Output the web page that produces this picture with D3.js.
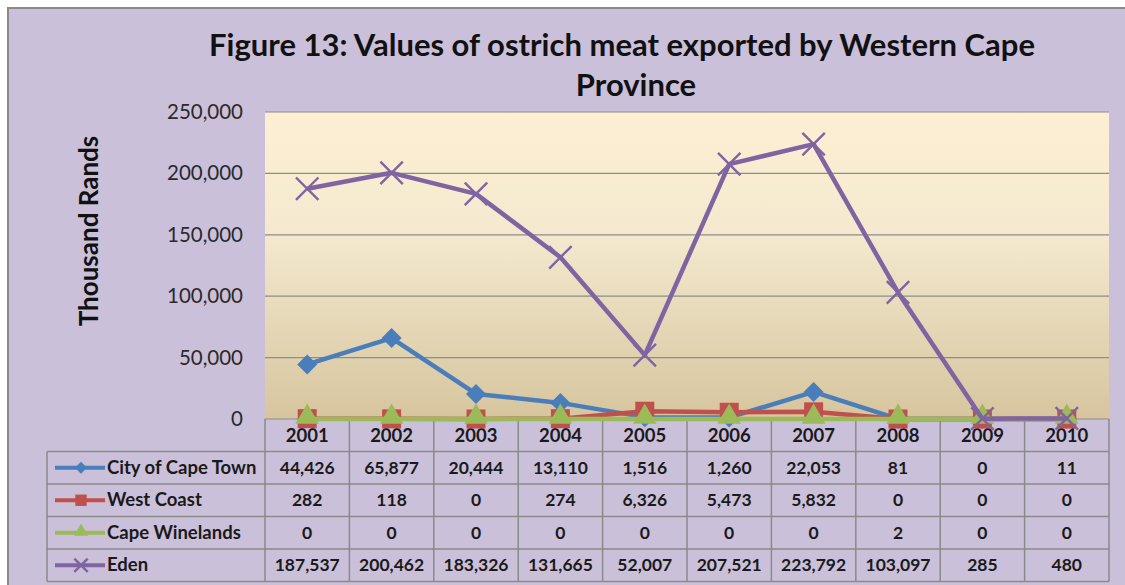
<!DOCTYPE html>
<html>
<head>
<meta charset="utf-8">
<script src="https://cdn.jsdelivr.net/npm/d3@7"></script>
<style>
  body { margin: 0; background: #fff; }
  svg { display: block; }
</style>
</head>
<body>
<div id="chart"></div>
<script>
// Data
var years = ['2001', '2002', '2003', '2004', '2005', '2006', '2007', '2008', '2009', '2010']
var seriesNames = ['City of Cape Town', 'West Coast', 'Cape Winelands', 'Eden']
var cityOfCapeTown = [44426, 65877, 20444, 13110, 1516, 1260, 22053, 81, 0, 11]
var westCoast = [282, 118, 0, 274, 6326, 5473, 5832, 0, 0, 0]
var capeWinelands = [0, 0, 0, 0, 0, 0, 0, 2, 0, 0]
var eden = [187537, 200462, 183326, 131665, 52007, 207521, 223792, 103097, 285, 480]
var yTicks = [0, 50000, 100000, 150000, 200000, 250000]

var seriesColors = ['#4a7ebb', '#c0504d', '#9bbb59', '#8064a2']
var seriesMarkers = ['diamond', 'square', 'triangle', 'cross']
var series = [cityOfCapeTown, westCoast, capeWinelands, eden].map(function(v, i){
  return {name: seriesNames[i], values: v, color: seriesColors[i], marker: seriesMarkers[i]}
})

var W = 1125, H = 585
var plot = {left: 265, right: 1109, top: 112, bottom: 419}
var rowH = 32.5
var tableLeft = 47
var font = 'Lato, "Open Sans", sans-serif'

var svg = d3.select('#chart').append('svg')
    .attr('width', W)
    .attr('height', H)

// Chart background
svg.append('rect')
    .attr('x', 8).attr('y', 8)
    .attr('width', W).attr('height', H)
    .attr('fill', '#cbc0da')
    .attr('stroke', '#8a8a8a')
    .attr('stroke-width', 2)

// Plot gradient
var defs = svg.append('defs')
var grad = defs.append('linearGradient')
    .attr('id', 'plotGrad')
    .attr('x1', 0).attr('y1', 0).attr('x2', 0).attr('y2', 1)
grad.append('stop').attr('offset', '0%').attr('stop-color', '#fdefd3')
grad.append('stop').attr('offset', '40%').attr('stop-color', '#f4e9cf')
grad.append('stop').attr('offset', '100%').attr('stop-color', '#d6c59e')

var x = d3.scaleBand()
    .domain(years)
    .range([plot.left, plot.right])
var y = d3.scaleLinear()
    .domain([0, 250000])
    .range([plot.bottom, plot.top])

svg.append('rect')
    .attr('x', plot.left).attr('y', plot.top)
    .attr('width', plot.right - plot.left)
    .attr('height', plot.bottom - plot.top)
    .attr('fill', 'url(#plotGrad)')

// Gridlines
svg.selectAll('line.grid')
    .data(yTicks)
  .enter().append('line')
    .attr('class', 'grid')
    .attr('x1', plot.left).attr('x2', plot.right)
    .attr('y1', function(d){ return y(d) })
    .attr('y2', function(d){ return y(d) })
    .style('stroke', '#8c8c8c')
    .style('stroke-width', 1.2)

// Y axis
var yAxis = svg.append('g')
    .attr('transform', 'translate(' + (plot.left - 19) + ',0)')
    .call(d3.axisLeft(y).tickValues(yTicks).tickSize(0).tickFormat(d3.format(',')))
yAxis.select('.domain').remove()
yAxis.selectAll('text')
    .attr('font-family', font)
    .attr('font-size', '20.5px')
    .attr('fill', '#2a2a2a')
    .attr('dx', 0)

svg.append('text')
    .attr('transform', 'translate(98,231) rotate(-90)')
    .attr('text-anchor', 'middle')
    .attr('font-family', font)
    .attr('font-weight', 'bold')
    .attr('font-size', '26px')
    .attr('fill', '#111')
    .text('Thousand Rands')

// Title
var title = svg.append('text')
    .attr('text-anchor', 'middle')
    .attr('font-family', font)
    .attr('font-weight', 'bold')
    .attr('font-size', '31px')
    .attr('fill', '#111')
title.append('tspan').attr('x', 622).attr('y', 56)
    .text('Figure 13: Values of ostrich meat exported by Western Cape')
title.append('tspan').attr('x', 636).attr('y', 96)
    .text('Province')

// Data table
var tableTop = plot.bottom
var tableBottom = tableTop + rowH * 5
var table = svg.append('g')
    .style('stroke', '#8a8a8a')
    .style('stroke-width', 1.5)

// vertical lines between year columns
table.selectAll('line.col')
    .data(years.concat(['end']))
  .enter().append('line')
    .attr('x1', function(d, i){ return plot.left + i * x.bandwidth() })
    .attr('x2', function(d, i){ return plot.left + i * x.bandwidth() })
    .attr('y1', tableTop)
    .attr('y2', tableBottom)
table.append('line')
    .attr('x1', tableLeft).attr('x2', tableLeft)
    .attr('y1', tableTop + rowH).attr('y2', tableBottom)
// horizontal lines
table.selectAll('line.row')
    .data(d3.range(1, 6))
  .enter().append('line')
    .attr('x1', tableLeft).attr('x2', plot.right)
    .attr('y1', function(d){ return tableTop + d * rowH })
    .attr('y2', function(d){ return tableTop + d * rowH })

// year labels
svg.selectAll('text.year')
    .data(years)
  .enter().append('text')
    .attr('class', 'year')
    .attr('x', function(d){ return x(d) + x.bandwidth() / 2 })
    .attr('y', tableTop + rowH / 2 + 7)
    .attr('text-anchor', 'middle')
    .attr('font-family', font)
    .attr('font-weight', 'bold')
    .attr('font-size', '18.5px')
    .attr('fill', '#1a1a1a')
    .text(function(d){ return d })

var fmt = d3.format(',')
series.forEach(function(s, si){
  var cy = tableTop + rowH * (si + 1) + rowH / 2
  var row = svg.append('g')
  row.selectAll('text.val')
      .data(s.values)
    .enter().append('text')
      .attr('x', function(d, i){ return x(years[i]) + x.bandwidth() / 2 })
      .attr('y', cy + 6)
      .attr('text-anchor', 'middle')
      .attr('font-family', font)
      .attr('font-weight', 'bold')
      .attr('font-size', '17.5px')
      .attr('fill', '#1a1a1a')
      .text(function(d){ return fmt(d) })
  // legend key
  row.append('line')
      .attr('x1', 55).attr('x2', 105)
      .attr('y1', cy).attr('y2', cy)
      .style('stroke', s.color)
      .style('stroke-width', 4)
  drawMarker(row, s, 81, cy, 0.6)
  row.append('text')
      .attr('x', 107)
      .attr('y', cy + 6)
      .attr('font-family', font)
      .attr('font-weight', 'bold')
      .attr('font-size', '18.5px')
      .attr('fill', '#1a1a1a')
      .text(s.name)
})

// Series lines and markers
var line = d3.line()
    .x(function(d, i){ return x(years[i]) + x.bandwidth() / 2 })
    .y(function(d){ return y(d) })

series.forEach(function(s){
  var g = svg.append('g')
  g.append('path')
      .datum(s.values)
      .attr('d', line)
      .attr('fill', 'none')
      .style('stroke', s.color)
      .style('stroke-width', 4.5)
      .style('stroke-linejoin', 'round')
  s.values.forEach(function(v, i){
    drawMarker(g, s, x(years[i]) + x.bandwidth() / 2, y(v), 1)
  })
})

function drawMarker(g, s, cx, cy, k) {
  if (s.marker === 'diamond') {
    var r = 10 * k
    g.append('path')
        .attr('d', 'M0,' + (-r) + 'L' + r + ',0L0,' + r + 'L' + (-r) + ',0Z')
        .attr('transform', 'translate(' + cx + ',' + cy + ')')
        .attr('fill', s.color)
  } else if (s.marker === 'square') {
    g.append('rect')
        .attr('x', cx - 9.5 * k).attr('y', cy - 9.5 * k)
        .attr('width', 19 * k).attr('height', 19 * k)
        .attr('fill', s.color)
  } else if (s.marker === 'triangle') {
    g.append('path')
        .attr('d', d3.symbol().type(d3.symbolTriangle).size(240 * k * k))
        .attr('transform', 'translate(' + cx + ',' + (cy - 2 * k) + ')')
        .attr('fill', s.color)
  } else {
    g.append('path')
        .attr('d', d3.symbol().type(d3.symbolX).size(330 * k * k))
        .attr('transform', 'translate(' + cx + ',' + cy + ')')
        .attr('fill', 'none')
        .style('stroke', s.color)
        .style('stroke-width', 2.4)
  }
}
</script>
</body>
</html>
